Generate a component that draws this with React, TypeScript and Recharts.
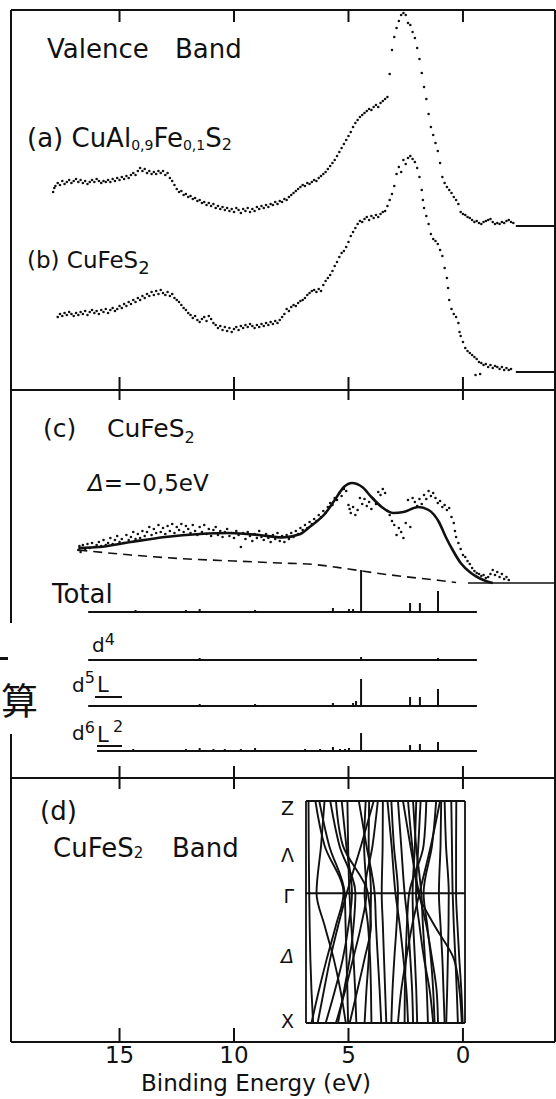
import React from 'react';
import { ComposedChart, Scatter, Line, XAxis, YAxis, ReferenceLine } from 'recharts';

// ---------- binding-energy axis (eV, increasing to the left) ----------
const E_LEFT = 19.74;
const E_RIGHT = -4.02;
const ENERGY_TICKS = [15, 10, 5, 0];

// ---------- (a) CuAl0.9Fe0.1S2 valence band: [binding energy, counts (arb.)] ----------
const SPEC_A: [number, number][] = [
  [17.9,34],[17.85,38],[17.8,40],[17.7,43],[17.6,41],[17.5,45],[17.4,42],[17.3,44],[17.2,46],[17.1,43],
  [17.0,45],[16.9,47],[16.8,44],[16.7,46],[16.6,43],[16.5,45],[16.4,42],[16.3,44],[16.2,46],[16.1,44],
  [16.0,47],[15.9,45],[15.8,43],[15.7,45],[15.6,44],[15.5,46],[15.4,44],[15.3,47],[15.2,45],[15.1,48],
  [15.0,46],[14.9,49],[14.8,47],[14.7,50],[14.6,48],[14.5,51],[14.4,53],[14.3,51],[14.2,55],[14.1,58],
  [14.0,55],[13.9,57],[13.8,53],[13.7,55],[13.6,52],[13.5,54],[13.4,52],[13.3,55],[13.2,53],[13.1,55],
  [13.0,51],[12.9,53],[12.8,48],[12.7,45],[12.6,41],[12.5,37],[12.4,34],[12.3,35],[12.2,31],[12.1,32],
  [12.0,29],[11.9,30],[11.8,27],[11.7,28],[11.6,25],[11.5,26],[11.4,23],[11.3,24],[11.2,21],[11.1,23],
  [11.0,20],[10.9,22],[10.8,18],[10.7,20],[10.6,17],[10.5,19],[10.4,16],[10.3,18],[10.2,15],[10.1,17],
  [10.0,14],[9.9,18],[9.8,16],[9.7,13],[9.6,17],[9.5,15],[9.4,18],[9.3,14],[9.2,17],[9.1,15],
  [9.0,19],[8.9,17],[8.8,20],[8.7,18],[8.6,21],[8.5,19],[8.4,22],[8.3,21],[8.2,24],[8.1,22],
  [8.0,25],[7.9,24],[7.8,27],[7.7,26],[7.6,29],[7.5,31],[7.4,33],[7.3,35],[7.2,37],[7.1,39],
  [7.0,41],[6.9,40],[6.8,43],[6.7,42],[6.6,44],[6.5,46],[6.4,45],[6.3,48],[6.2,50],[6.1,52],
  [6.0,54],[5.9,57],[5.8,60],[5.7,63],[5.6,66],[5.5,70],[5.4,74],[5.3,78],[5.2,82],[5.1,86],
  [5.0,90],[4.9,94],[4.8,99],[4.7,103],[4.6,106],[4.5,109],[4.4,111],[4.3,113],[4.2,115],[4.1,117],
  [4.0,116],[3.9,119],[3.8,121],[3.7,119],[3.6,123],[3.5,125],[3.4,127],[3.3,129],[3.2,152],[3.1,176],
  [3.0,189],[2.9,198],[2.8,205],[2.7,211],[2.6,213],[2.5,211],[2.4,203],[2.3,201],[2.2,194],[2.1,188],
  [2.0,178],[1.9,167],[1.8,153],[1.7,139],[1.6,127],[1.5,112],[1.4,99],[1.3,91],[1.2,83],[1.1,75],
  [1.0,63],[0.9,49],[0.8,43],[0.7,39],[0.6,36],[0.5,33],[0.4,29],[0.3,26],[0.2,22],[0.1,14],
  [0.0,12],[-0.1,11],[-0.2,9],[-0.3,8],[-0.4,6],[-0.5,4],[-0.6,5],[-0.7,3],[-0.8,2],[-0.9,4],
  [-1.0,5],[-1.1,6],[-1.2,7],[-1.3,4],[-1.4,2],[-1.5,3],[-1.6,2],[-1.7,4],[-1.8,3],[-1.9,5],
  [-2.0,6],[-2.1,4],[-2.2,3],
];

// ---------- (b) CuFeS2 valence band ----------
const SPEC_B: [number, number][] = [
  [17.7,55],[17.6,58],[17.5,56],[17.4,59],[17.3,57],[17.2,60],[17.1,58],[17.0,56],[16.9,59],[16.8,57],
  [16.7,60],[16.6,58],[16.5,61],[16.4,57],[16.3,60],[16.2,62],[16.1,59],[16.0,61],[15.9,58],[15.8,62],
  [15.7,60],[15.6,63],[15.5,59],[15.4,62],[15.3,64],[15.2,61],[15.1,63],[15.0,66],[14.9,64],[14.8,68],
  [14.7,66],[14.6,70],[14.5,68],[14.4,72],[14.3,70],[14.2,74],[14.1,72],[14.0,76],[13.9,74],[13.8,78],
  [13.7,76],[13.6,80],[13.5,77],[13.4,81],[13.3,78],[13.2,82],[13.1,79],[13.0,77],[12.9,80],[12.8,76],
  [12.7,78],[12.6,74],[12.5,72],[12.4,70],[12.3,67],[12.2,64],[12.1,62],[12.0,59],[11.9,57],[11.8,54],
  [11.7,56],[11.6,52],[11.5,50],[11.4,53],[11.3,55],[11.2,51],[11.1,56],[11.0,53],[10.9,49],[10.8,47],
  [10.7,44],[10.6,46],[10.5,42],[10.4,45],[10.3,41],[10.2,44],[10.1,40],[10.0,43],[9.9,45],[9.8,42],
  [9.7,46],[9.6,44],[9.5,47],[9.4,45],[9.3,48],[9.2,46],[9.1,44],[9.0,47],[8.9,45],[8.8,48],
  [8.7,46],[8.6,49],[8.5,47],[8.4,50],[8.3,48],[8.2,51],[8.1,49],[8.0,52],[7.9,55],[7.8,58],
  [7.7,63],[7.6,61],[7.5,65],[7.4,67],[7.3,66],[7.2,69],[7.1,71],[7.0,72],[6.9,74],[6.8,77],
  [6.7,79],[6.6,81],[6.5,82],[6.4,80],[6.3,83],[6.2,81],[6.1,87],[6.0,91],[5.9,94],[5.8,97],
  [5.7,101],[5.6,106],[5.5,110],[5.4,115],[5.3,119],[5.2,121],[5.1,125],[5.0,130],[4.9,136],[4.8,140],
  [4.7,144],[4.6,148],[4.5,151],[4.4,150],[4.3,153],[4.2,155],[4.1,152],[4.0,156],[3.9,154],[3.8,157],
  [3.7,155],[3.6,158],[3.5,160],[3.4,161],[3.3,166],[3.2,172],[3.1,178],[3.0,186],[2.9,198],[2.8,205],
  [2.7,200],[2.6,212],[2.5,208],[2.4,214],[2.3,216],[2.2,213],[2.1,210],[2.0,204],[1.9,195],[1.8,182],
  [1.75,172],[1.7,164],[1.6,156],[1.5,148],[1.4,138],[1.3,133],[1.2,131],[1.1,128],[1.0,122],[0.9,116],
  [0.8,104],[0.7,94],[0.65,84],[0.6,72],[0.5,63],[0.4,58],[0.3,55],[0.2,49],[0.15,40],[0.1,36],
  [0.0,30],[-0.1,24],[-0.2,21],[-0.3,19],[-0.4,17],[-0.5,15],[-0.55,-3],[-0.6,13],[-0.7,10],[-0.75,-2],
  [-0.8,9],[-0.9,7],[-1.0,8],[-1.1,5],[-1.2,7],[-1.3,4],[-1.4,6],[-1.5,5],[-1.6,3],[-1.7,5],
  [-1.8,2],[-1.9,4],[-2.0,2],[-2.1,3],
];

// ---------- (c) CuFeS2 spectrum, cluster-model fit and background ----------
const SPEC_C: [number, number][] = [
  [16.8,33],[16.75,37],[16.7,31],[16.6,38],[16.5,34],[16.4,39],[16.3,35],[16.2,40],[16.1,36],[16.0,38],
  [15.9,41],[15.8,37],[15.7,43],[15.6,38],[15.5,40],[15.4,45],[15.3,39],[15.2,43],[15.1,47],[15.0,41],
  [14.9,44],[14.8,40],[14.7,48],[14.6,43],[14.5,46],[14.4,51],[14.3,44],[14.2,49],[14.1,45],[14.0,52],
  [13.9,47],[13.8,51],[13.7,56],[13.6,48],[13.5,54],[13.4,50],[13.3,58],[13.2,51],[13.1,55],[13.0,49],
  [12.9,57],[12.8,52],[12.7,59],[12.6,50],[12.5,56],[12.4,53],[12.3,59],[12.2,51],[12.1,57],[12.0,54],
  [11.9,50],[11.8,58],[11.7,52],[11.6,48],[11.5,56],[11.4,51],[11.3,58],[11.2,49],[11.1,54],[11.0,47],
  [10.9,53],[10.8,56],[10.7,48],[10.6,52],[10.5,46],[10.4,51],[10.3,54],[10.2,47],[10.1,50],[10.0,45],
  [9.9,52],[9.8,48],[9.7,36],[9.6,50],[9.5,44],[9.4,51],[9.3,47],[9.2,42],[9.1,49],[9.0,45],
  [8.9,52],[8.8,46],[8.7,43],[8.6,49],[8.5,45],[8.4,41],[8.3,48],[8.2,44],[8.1,50],[8.0,42],
  [7.9,47],[7.8,41],[7.7,48],[7.6,44],[7.5,50],[7.4,46],[7.3,52],[7.2,49],[7.1,55],[7.0,53],
  [6.9,58],[6.8,55],[6.7,61],[6.6,59],[6.5,64],[6.4,62],[6.3,68],[6.2,66],[6.1,72],[6.0,70],
  [5.9,76],[5.8,80],[5.7,78],[5.6,85],[5.5,83],[5.4,90],[5.3,87],[5.2,94],[5.1,92],[5.0,78],
  [4.95,74],[4.9,70],[4.8,76],[4.7,68],[4.6,73],[4.5,85],[4.4,79],[4.3,84],[4.2,77],[4.1,81],
  [4.0,74],[3.9,84],[3.8,79],[3.7,91],[3.6,88],[3.5,94],[3.4,90],[3.3,72],[3.2,68],[3.1,62],
  [3.0,58],[2.9,48],[2.8,55],[2.7,51],[2.6,45],[2.5,60],[2.4,83],[2.3,56],[2.2,85],[2.1,81],
  [2.0,77],[1.9,84],[1.8,79],[1.7,88],[1.6,84],[1.5,92],[1.4,87],[1.3,90],[1.2,85],[1.1,80],
  [1.0,82],[0.9,76],[0.8,78],[0.7,73],[0.6,75],[0.5,66],[0.4,60],[0.35,52],[0.3,46],[0.2,40],
  [0.1,34],[0.0,28],[-0.1,26],[-0.2,22],[-0.3,19],[-0.4,15],[-0.5,12],[-0.6,10],[-0.7,9],[-0.8,7],
  [-0.9,8],[-1.0,5],[-1.1,6],[-1.2,9],[-1.3,13],[-1.4,8],[-1.5,11],[-1.6,6],[-1.7,9],[-1.8,4],
  [-1.9,6],[-2.0,3],
];
const FIT_C: [number, number][] = [
  [16.8,35],[15.9,36],[14.5,41],[13.0,46],[11.5,49],[10.2,50],[8.9,48],[7.9,45.5],[7.1,49],[6.7,56],
  [6.0,70],[5.6,83],[5.2,96],[4.85,100],[4.4,96],[4.0,86],[3.55,76],[3.05,70],[2.6,71],[1.95,76],
  [1.5,73],[1.05,61],[0.75,46],[0.45,33],[0.1,20],[-0.35,10],[-0.7,5],[-1.0,2],[-1.3,0],
];
const BACKGROUND_C: [number, number][] = [
  [16.8,33],[14.5,28],[12.0,24],[10.0,22],[8.0,20],[6.5,18.5],[5.0,14],[3.5,9],[2.0,5],[1.0,2.5],[0.3,0.5],
];

// ---------- calculated line spectra: [binding energy, weight] ----------
const STICKS_TOTAL: [number, number][] = [
  [14.3,2],[12.1,2],[11.5,3],[9.08,2],[6.9,1],[5.68,4],[4.98,3],[4.8,3],[4.45,42],[2.31,9],[1.88,9],[1.09,21],
];
const STICKS_D4: [number, number][] = [[11.5,2],[4.45,3],[1.09,2]];
const STICKS_D5L: [number, number][] = [
  [11.5,2],[9.08,2],[5.68,3],[4.8,3],[4.67,5],[4.45,27],[2.31,9],[1.88,9],[1.09,17],
];
const STICKS_D6L2: [number, number][] = [
  [14.4,2],[12.1,2],[11.5,3],[10.9,2],[10.4,2],[9.7,2],[9.08,3],[6.9,2],[6.24,2],[5.68,4],[5.37,2],
  [5.15,2],[4.98,3],[4.45,18],[2.31,6],[1.88,7],[1.09,9],
];

// ---------- (d) band structure along Z - Γ - X (k in fractions of the path) ----------
const K_POINTS = [0, 0.2, 0.415, 0.56, 0.71, 0.855, 1];
const K_GAMMA = 0.415;
const K_LABELS = [
  { k: 0.03, label: 'Z' },
  { k: 0.245, label: 'Λ' },
  { k: 0.43, label: 'Γ' },
  { k: 0.7, label: 'Δ' },
  { k: 0.99, label: 'X' },
];
const BANDS: number[][] = [
  [6.75,6.74,6.72,6.70,6.67,6.62,6.55],
  [6.45,6.05,5.22,5.55,5.95,6.30,6.62],
  [6.28,5.85,5.17,5.13,5.09,5.05,5.02],
  [3.90,4.45,5.08,5.45,5.80,6.08,6.35],
  [5.80,5.40,4.70,4.78,4.95,5.20,5.46],
  [5.05,5.02,4.96,4.88,4.78,4.71,4.66],
  [4.25,4.32,4.22,4.45,4.80,5.15,5.55],
  [4.10,4.12,4.02,4.05,4.12,4.22,4.30],
  [3.72,3.95,4.30,4.15,4.06,4.02,4.00],
  [4.55,4.22,3.86,3.80,3.72,3.64,3.57],
  [3.50,3.51,3.55,3.50,3.45,3.40,3.35],
  [5.55,5.25,4.15,4.02,4.30,4.62,4.95],
  [6.05,6.20,6.40,6.05,5.65,5.35,5.12],
  [5.30,5.10,4.85,5.00,5.25,5.60,6.00],
  [2.62,2.30,1.92,1.60,1.35,1.15,1.09],
  [1.00,1.40,1.90,2.22,2.48,2.70,2.84],
  [2.40,2.22,1.95,1.25,0.40,0.15,0.05],
  [2.18,2.05,1.82,1.75,1.66,1.58,1.53],
  [2.04,2.10,2.20,2.17,2.10,2.04,2.00],
  [1.60,1.72,2.35,2.45,2.50,2.54,2.55],
  [1.17,1.35,1.72,1.56,1.40,1.30,1.24],
  [0.95,0.98,1.05,0.98,0.90,0.85,0.80],
  [0.80,0.74,0.62,0.63,0.66,0.69,0.73],
  [0.51,0.48,0.45,0.40,0.33,0.27,0.22],
  [0.29,0.30,0.30,0.24,0.16,0.07,0.01],
  [3.13,3.02,2.84,2.90,3.00,3.08,3.13],
  [2.84,2.70,2.55,2.40,2.30,2.22,2.18],
  [3.30,3.12,2.95,2.76,2.60,2.47,2.40],
  [1.85,1.95,2.05,1.90,1.70,1.45,1.30],
];

// ---------- styling / layout ----------
const INK = '#111';
const FONT = '"DejaVu Sans", "Noto Sans", sans-serif';
const FRAME = { stroke: INK, strokeWidth: 2 };
const W = 556;
const M_LEFT = 10; // + 1px left axis = plot starts at x = 11
const M_RIGHT = 0; // + 1px right axis = plot ends at x = 555

// vertical stacking of the traces inside each panel
const OFFSET_A = 146;
const OFFSET_B = 0;
const ROW_TOTAL = -29;
const ROW_D4 = -77;
const ROW_D5L = -123;
const ROW_D6L2 = -168;
const ROW_START = 16.37;
const ROW_START_D6 = 15.98;
const ROW_END = -0.61;
const LEVEL_MARK_FROM = -2.31;
const ZERO_MARK_FROM = -0.22;

const toPoints = (rows: [number, number][], offset = 0) => rows.map(([e, v]) => ({ e, v: v + offset }));

const stickTrace = (sticks: [number, number][], from: number, to: number, offset: number) => {
  const pts = [{ e: from, v: offset }];
  [...sticks].sort((a, b) => b[0] - a[0]).forEach(([e, h]) => {
    pts.push({ e, v: offset }, { e, v: offset + h }, { e, v: offset });
  });
  pts.push({ e: to, v: offset });
  return pts;
};

const renderDot = (p: any) => <circle cx={p.cx} cy={p.cy} r={1.3} fill={INK} />;
// inward tick marks without numbers
const noLabel = () => <g />;

const energyAxes = (topTick: number, bottomTick: number) => [
  <XAxis key="xt" xAxisId="t" type="number" dataKey="e" domain={[E_RIGHT, E_LEFT]} reversed orientation="top"
    mirror height={1} ticks={ENERGY_TICKS} interval={0} tick={noLabel} tickSize={topTick}
    axisLine={FRAME} tickLine={FRAME} allowDataOverflow />,
  <XAxis key="xb" xAxisId="b" type="number" dataKey="e" domain={[E_RIGHT, E_LEFT]} reversed orientation="bottom"
    mirror height={1} ticks={ENERGY_TICKS} interval={0} tick={noLabel} tickSize={bottomTick}
    axisLine={FRAME} tickLine={FRAME} allowDataOverflow />,
];

const sideAxes = (domain: [number, number], leftLine: boolean) => [
  <YAxis key="yl" yAxisId="l" type="number" dataKey="v" domain={domain} width={1} tick={false} tickLine={false}
    axisLine={leftLine ? FRAME : false} allowDataOverflow />,
  <YAxis key="yr" yAxisId="r" type="number" orientation="right" domain={domain} width={1} tick={false}
    tickLine={false} axisLine={FRAME} allowDataOverflow />,
];

function ValencePanel() {
  const a = toPoints(SPEC_A, OFFSET_A);
  const b = toPoints(SPEC_B, OFFSET_B);
  return (
    <ComposedChart width={W} height={400} margin={{ top: 10, right: M_RIGHT, bottom: 10, left: M_LEFT }}>
      {energyAxes(12, 13)}
      {sideAxes([-18, 362], true)}
      <Scatter xAxisId="b" yAxisId="l" data={a} shape={renderDot} isAnimationActive={false} />
      <Scatter xAxisId="b" yAxisId="l" data={b} shape={renderDot} isAnimationActive={false} />
      <ReferenceLine xAxisId="b" yAxisId="l" ifOverflow="visible" stroke={INK} strokeWidth={2}
        segment={[{ x: LEVEL_MARK_FROM, y: OFFSET_A }, { x: E_RIGHT, y: OFFSET_A }]} />
      <ReferenceLine xAxisId="b" yAxisId="l" ifOverflow="visible" stroke={INK} strokeWidth={2}
        segment={[{ x: LEVEL_MARK_FROM, y: OFFSET_B }, { x: E_RIGHT, y: OFFSET_B }]} />
    </ComposedChart>
  );
}

function ClusterPanel() {
  const rows = [
    stickTrace(STICKS_TOTAL, ROW_START, ROW_END, ROW_TOTAL),
    stickTrace(STICKS_D4, ROW_START, ROW_END, ROW_D4),
    stickTrace(STICKS_D5L, ROW_START, ROW_END, ROW_D5L),
    stickTrace(STICKS_D6L2, ROW_START_D6, ROW_END, ROW_D6L2),
  ];
  const domain: [number, number] = [-195, 193];
  return (
    <ComposedChart width={W} height={408} margin={{ top: 10, right: M_RIGHT, bottom: 10, left: M_LEFT }}>
      {energyAxes(10, 12)}
      {sideAxes(domain, false)}
      {/* left frame edge, interrupted beside the line spectra */}
      <ReferenceLine xAxisId="b" yAxisId="l" ifOverflow="visible" stroke={INK} strokeWidth={2}
        segment={[{ x: E_LEFT, y: 193 }, { x: E_LEFT, y: -40 }]} />
      <ReferenceLine xAxisId="b" yAxisId="l" ifOverflow="visible" stroke={INK} strokeWidth={2}
        segment={[{ x: E_LEFT, y: -151 }, { x: E_LEFT, y: -195 }]} />
      <ReferenceLine xAxisId="b" yAxisId="l" ifOverflow="visible" stroke={INK} strokeWidth={1.6}
        segment={[{ x: ZERO_MARK_FROM, y: 0 }, { x: E_RIGHT, y: 0 }]} />
      <Line xAxisId="b" yAxisId="l" data={toPoints(BACKGROUND_C)} dataKey="v" type="monotone" dot={false}
        stroke={INK} strokeWidth={1.6} strokeDasharray="9 6" isAnimationActive={false} />
      <Scatter xAxisId="b" yAxisId="l" data={toPoints(SPEC_C)} shape={renderDot} isAnimationActive={false} />
      <Line xAxisId="b" yAxisId="l" data={toPoints(FIT_C)} dataKey="v" type="monotone" dot={false}
        stroke={INK} strokeWidth={2.6} isAnimationActive={false} />
      {rows.map((r, i) => (
        <Line key={i} xAxisId="b" yAxisId="l" data={r} dataKey="v" type="linear" dot={false}
          stroke={INK} strokeWidth={2} isAnimationActive={false} />
      ))}
    </ComposedChart>
  );
}

function BandFramePanel() {
  return (
    <ComposedChart width={W} height={331} margin={{ top: 10, right: M_RIGHT, bottom: 2, left: M_LEFT }}>
      {energyAxes(11, 14)}
      <XAxis xAxisId="lbl" type="number" dataKey="e" domain={[E_RIGHT, E_LEFT]} reversed orientation="bottom"
        height={55} ticks={ENERGY_TICKS} interval={0} tickLine={false} axisLine={false} tickSize={0} tickMargin={5}
        tick={{ fontSize: 23, fill: INK, fontFamily: FONT }}
        label={{ value: 'Binding Energy (eV)', position: 'insideBottom', offset: 6, dx: -27,
          style: { fontSize: 23, fill: INK, fontFamily: FONT } }} allowDataOverflow />
      {sideAxes([0, 1], true)}
    </ComposedChart>
  );
}

const renderKTick = (p: any) => {
  const item = K_LABELS.find((d) => Math.abs(d.k - p.payload.value) < 1e-6);
  const label = item ? item.label : '';
  return (
    <text x={p.x} y={p.y} dy={7} textAnchor="end" fontSize={19} fill={INK} fontFamily={FONT}
      fontStyle={label === 'Δ' ? 'italic' : 'normal'}>{label}</text>
  );
};

function BandStructure() {
  const box = { stroke: INK, strokeWidth: 1.8 };
  return (
    <ComposedChart layout="vertical" width={206} height={242} margin={{ top: 10, right: 6, bottom: 10, left: 6 }}>
      <XAxis xAxisId="b" type="number" domain={[-0.09, 6.86]} reversed orientation="bottom" mirror height={1}
        tick={false} tickLine={false} axisLine={box} allowDataOverflow />
      <XAxis xAxisId="t" type="number" domain={[-0.09, 6.86]} reversed orientation="top" mirror height={1}
        tick={false} tickLine={false} axisLine={box} allowDataOverflow />
      <YAxis yAxisId="k" type="number" dataKey="k" domain={[0, 1]} width={30} ticks={K_LABELS.map((d) => d.k)}
        interval={0} tickLine={false} tickSize={0} tickMargin={12} tick={renderKTick}
        axisLine={box} allowDataOverflow />
      <YAxis yAxisId="kr" type="number" orientation="right" domain={[0, 1]} width={5} tick={false}
        tickLine={false} axisLine={box} allowDataOverflow />
      <ReferenceLine xAxisId="b" yAxisId="k" y={K_GAMMA} stroke={INK} strokeWidth={2} />
      {BANDS.map((band, i) => (
        <Line key={i} xAxisId="b" yAxisId="k" data={K_POINTS.map((k, j) => ({ k, e: band[j] }))} dataKey="e"
          type="monotone" dot={false} stroke={INK} strokeWidth={1.9} isAnimationActive={false} />
      ))}
    </ComposedChart>
  );
}

function Labels() {
  const t = { fill: INK, fontFamily: FONT };
  return (
    <svg width={W} height={1099} style={{ position: 'absolute', left: 0, top: 0, pointerEvents: 'none' }}>
      <text {...t} x={47} y={58} fontSize={26}>Valence<tspan x={175}>Band</tspan></text>
      <text {...t} x={27} y={147} fontSize={26}>
        (a) CuAl<tspan fontSize={14} dy={3}>0,9</tspan><tspan dy={-3}>Fe</tspan>
        <tspan fontSize={14} dy={3}>0,1</tspan><tspan dy={-3}>S</tspan><tspan fontSize={16} dy={3}>2</tspan>
      </text>
      <text {...t} x={27} y={268} fontSize={23}>(b) CuFeS<tspan fontSize={18} dy={6}>2</tspan></text>
      <text {...t} x={43} y={437} fontSize={25}>(c)<tspan x={107}>CuFeS</tspan><tspan fontSize={16} dy={6}>2</tspan></text>
      <text {...t} x={88} y={491} fontSize={23}><tspan fontStyle="italic">Δ</tspan>=−0,5eV</text>
      <text {...t} x={52} y={603} fontSize={26}>Total</text>
      <text {...t} x={92} y={652} fontSize={20}>d<tspan fontSize={16} dy={-7}>4</tspan></text>
      <text {...t} x={72} y={692} fontSize={20}>d<tspan fontSize={16} dy={-9}>5</tspan><tspan x={97} dy={9} fontSize={21}>L</tspan></text>
      <line x1={95} x2={122} y1={697} y2={697} stroke={INK} strokeWidth={2} />
      <text {...t} x={72} y={740} fontSize={20}>d<tspan fontSize={16} dy={-7}>6</tspan><tspan x={97} dy={9} fontSize={21}>L</tspan><tspan x={113} dy={-10} fontSize={16}>2</tspan></text>
      <line x1={97} x2={122} y1={746} y2={746} stroke={INK} strokeWidth={2} />
      <text {...t} x={40} y={820} fontSize={26}>(d)</text>
      <text {...t} x={53} y={857} fontSize={26}>CuFeS<tspan fontSize={15} dy={1}>2</tspan><tspan x={172} dy={-1}>Band</tspan></text>
      <rect x={0} y={657} width={8} height={3} fill={INK} />
      <text x={1} y={715} fontSize={37} fill={INK} fontFamily='"Noto Sans CJK SC", sans-serif'>算</text>
    </svg>
  );
}

export default function App() {
  return (
    <div style={{ position: 'absolute', left: 0, top: 0, width: W, height: 1099, overflow: 'hidden', background: '#fff' }}>
      <div style={{ position: 'absolute', left: 0, top: 0 }}><ValencePanel /></div>
      <div style={{ position: 'absolute', left: 0, top: 380 }}><ClusterPanel /></div>
      <div style={{ position: 'absolute', left: 0, top: 768 }}><BandFramePanel /></div>
      <div style={{ position: 'absolute', left: 270, top: 791 }}><BandStructure /></div>
      <Labels />
    </div>
  );
}
